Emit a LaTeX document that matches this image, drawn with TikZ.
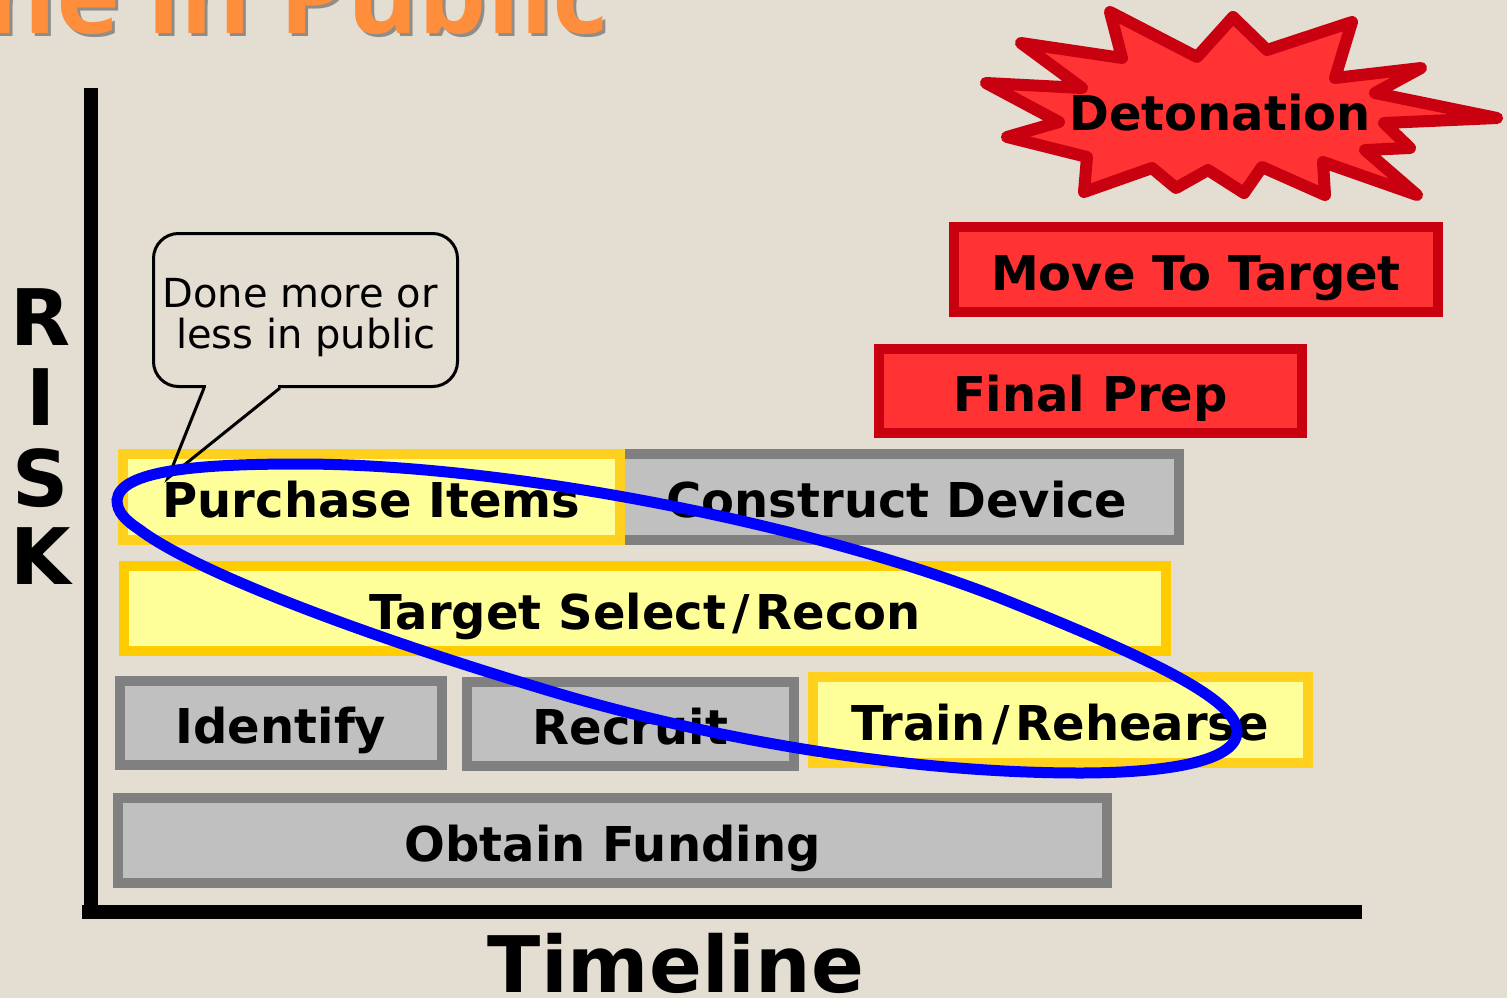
\documentclass[tikz,border=0pt]{standalone}
\usepackage{fontspec}
\setmainfont{DejaVu Sans}
\newfontfamily\titlefont{Open Sans}

\definecolor{paper}{RGB}{227,221,210}
\definecolor{yfill}{RGB}{255,255,153}
\definecolor{yline}{RGB}{255,208,30}
\definecolor{ylinedeep}{RGB}{255,204,0}
\definecolor{gfill}{RGB}{192,192,192}
\definecolor{gline}{RGB}{128,128,128}
\definecolor{rfill}{RGB}{255,51,51}
\definecolor{rline}{RGB}{200,0,15}
\definecolor{ringblue}{RGB}{0,0,255}
\definecolor{headorange}{RGB}{255,142,60}

% a slash with a little extra room on both sides
\newcommand\wideslash{\kern6pt/\kern6pt}

\begin{document}
\begin{tikzpicture}[x=1pt,y=-1pt,
  stage/.style={draw, line width=10pt, inner sep=0pt, outer sep=0pt,
    font=\fontsize{48}{56}\selectfont\bfseries, text height=41pt, text depth=0pt},
  yellowstage/.style={stage, fill=yfill, draw=yline},
  greystage/.style={stage, fill=gfill, draw=gline},
  redstage/.style={stage, fill=rfill, draw=rline},
  axisline/.style={line width=14pt, line cap=butt},
  riskletter/.style={anchor=base, inner sep=0pt, font=\fontsize{78}{80}\selectfont\bfseries},
  burst/.style={fill=rfill, draw=rline, line width=12pt, line join=round},
  notebox/.style={draw, line width=3pt, rounded corners=25pt, inner sep=0pt,
    minimum width=304pt, minimum height=153pt},
  notetext/.style={align=center, inner sep=0pt, font=\fontsize{40}{41}\selectfont},
  bluering/.style={draw=ringblue, line width=11pt},
  headfont/.style={font=\titlefont\bfseries\fontsize{108}{108}\selectfont},
]
% page and background
\fill[paper] (0,0) rectangle (1507,998);
\useasboundingbox (0,0) rectangle (1507,998);

% heading (runs past the top edge of the page)
\node[anchor=base west, inner sep=0pt, text=black!70, opacity=0.55, headfont] (headshadow) at (-12,37) {ne in Public};
\node[anchor=base west, inner sep=0pt, text=headorange, headfont] (heading) at (-15,34) {ne in Public};

% axes
\coordinate (ytop) at (91,88);
\coordinate (ybottom) at (91,918.5);
\coordinate (xstart) at (82,911.5);
\coordinate (xend) at (1362,911.5);
\draw[axisline] (ytop) -- (ybottom);
\draw[axisline] (xstart) -- (xend);

% axis titles
\node[riskletter] (r) at (41,345) {R};
\node[riskletter] (i) at (41,425) {I};
\node[riskletter] (s) at (41,506) {S};
\node[riskletter] (k) at (41,584) {K};
\node[anchor=base, inner sep=0pt, font=\fontsize{78}{78}\selectfont\bfseries] (timeline) at (676,992) {Timeline};

% stages
\node[redstage, minimum width=484pt, minimum height=85pt] (move) at (1196,269.5) {Move To Target};
\node[redstage, minimum width=423pt, minimum height=84pt] (finalprep) at (1090.5,391) {Final Prep};
\node[greystage, minimum width=564pt, minimum height=86pt] (construct) at (897,497) {Construct Device};
\node[yellowstage, minimum width=497pt, minimum height=86pt] (purchase) at (371.5,497) {Purchase Items};
\node[yellowstage, draw=ylinedeep, minimum width=1042pt, minimum height=85pt] (target) at (645,608.5) {Target Select\wideslash Recon};
\node[greystage, minimum width=322pt, minimum height=84pt] (identify) at (281,723) {Identify};
\node[greystage, minimum width=327pt, minimum height=84pt] (recruit) at (630.5,724) {Recruit};
\node[yellowstage, minimum width=495pt, minimum height=86pt] (train) at (1060.5,720) {Train\wideslash Rehearse};
\node[greystage, minimum width=989pt, minimum height=85pt] (funding) at (612.5,840.5) {Obtain Funding};

% explosion
\draw[burst] (1110,12) -- (1197,57) -- (1233,17) -- (1267,50) -- (1352,22) -- (1335,78)
  -- (1421,68) -- (1375,93) -- (1497,118) -- (1384,123) -- (1410,148) -- (1365,150)
  -- (1417,195) -- (1323,162) -- (1325,195) -- (1262,167) -- (1244,193) -- (1208,170)
  -- (1176,188) -- (1152,168) -- (1084,192) -- (1087,157) -- (1007,137) -- (1059,122)
  -- (986,83) -- (1082,88) -- (1021,43) -- (1122,58) -- cycle;
\node[inner sep=0pt, font=\fontsize{48}{56}\selectfont\bfseries, text height=41pt, text depth=0pt] (detonation) at (1220,110) {Detonation};

% speech bubble
\node[notebox] (note) at (305.5,310) {};
\node[notetext] (notetxt) at (300,318) {Done more or\\\hspace*{12pt}less in public};
\coordinate (tailleft) at (204,388);
\coordinate (tailright) at (280,388);
\coordinate (tailtip) at (168,478);
\fill[paper] (206,385) rectangle (278,391);
\draw[line width=3pt, line join=miter] (tailleft) -- (tailtip) -- (tailright);

% highlighted group
\coordinate (ringwest) at (117,500);
\coordinate (ringtop) at (300,464);
\coordinate (ringmid) at (1000,598);
\coordinate (ringeast) at (1237,732);
\coordinate (ringbottom) at (1080,773);
\coordinate (ringlow) at (540,688);
\coordinate (ringsw) at (140,530);
\draw[bluering] (ringwest)
  .. controls (120,470) and (200,464) .. (ringtop)
  .. controls (500,464) and (800,520) .. (ringmid)
  .. controls (1150,658) and (1238,700) .. (ringeast)
  .. controls (1236,765) and (1150,773) .. (ringbottom)
  .. controls (900,773) and (700,737) .. (ringlow)
  .. controls (380,640) and (200,575) .. (ringsw)
  .. controls (125,520) and (117,512) .. (ringwest) -- cycle;
\end{tikzpicture}
\end{document}
